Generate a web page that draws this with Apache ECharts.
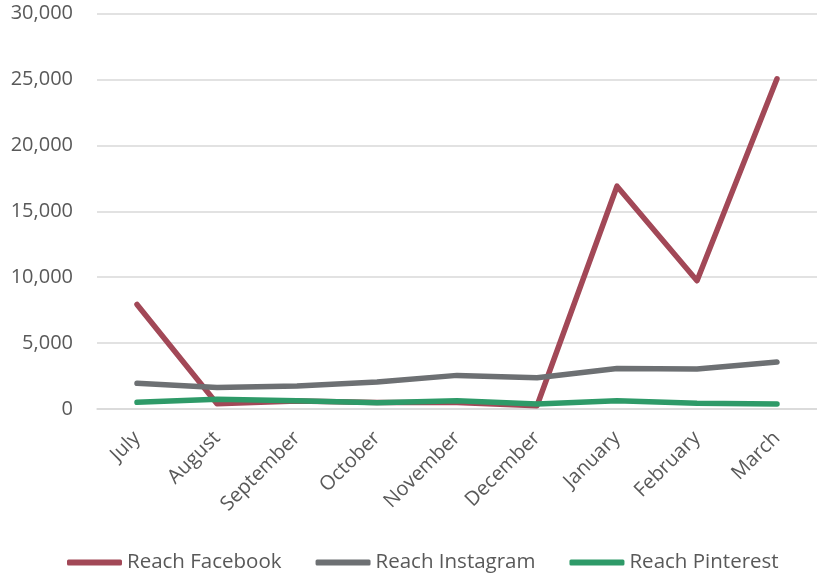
<!DOCTYPE html>
<html>
<head>
<meta charset="utf-8">
<script src="https://cdn.jsdelivr.net/npm/echarts@6/dist/echarts.min.js"></script>
<style>
html,body{margin:0;padding:0;background:#fff;}
#chart{width:817px;height:576px;}
</style>
</head>
<body>
<div id="chart"></div>
<script>
var categories = ['July','August','September','October','November','December','January','February','March'];
var reachFacebook = [7930, 400, 600, 500, 500, 250, 16900, 9730, 25050];
var reachInstagram = [1950, 1640, 1740, 2050, 2550, 2370, 3080, 3040, 3560];
var reachPinterest = [510, 740, 630, 480, 620, 380, 630, 430, 380];
var yTicks = [0, 5000, 10000, 15000, 20000, 25000, 30000];

var FONT = '"Open Sans", "Noto Sans", sans-serif';
var TXT = '#595959';

var chart = echarts.init(document.getElementById('chart'), null, {renderer:'canvas'});
function mk(name, data, color){
  return {
    name: name, type: 'line', data: data, symbol: 'none',
    lineStyle: {width: 5.5, color: color, cap: 'round', join: 'round'},
    itemStyle: {color: color},
    animation: false
  };
}
chart.setOption({
  animation: false,
  grid: {left: 97, right: -6, top: 13.5, bottom: 167, containLabel: false},
  xAxis: {
    type: 'category', data: categories, boundaryGap: true,
    axisLine: {show: true, lineStyle: {color: '#d9d9d9', width: 1.5}},
    axisTick: {show: false},
    axisLabel: {rotate: 45, color: TXT, fontFamily: FONT, fontSize: 20, margin: 26, interval: 0}
  },
  yAxis: {
    type: 'value', min: yTicks[0], max: yTicks[yTicks.length-1], interval: 5000,
    axisLine: {show: false}, axisTick: {show: false},
    splitLine: {lineStyle: {color: '#d9d9d9', width: 1.5}},
    axisLabel: {color: TXT, fontFamily: FONT, fontSize: 20, margin: 24,
      formatter: function(v){ return v.toLocaleString('en-US'); }}
  },
  legend: {
    bottom: -2, left: 62, itemWidth: 55, itemHeight: 6, itemGap: 34,
    icon: 'roundRect',
    textStyle: {color: TXT, fontFamily: FONT, fontSize: 20.5, padding: [0,0,0,0]},
    data: ['Reach Facebook','Reach Instagram','Reach Pinterest']
  },
  series: [
    mk('Reach Facebook', reachFacebook, '#A24857'),
    mk('Reach Instagram', reachInstagram, '#6D7073'),
    mk('Reach Pinterest', reachPinterest, '#2E9A68')
  ]
});
</script>
</body>
</html>
